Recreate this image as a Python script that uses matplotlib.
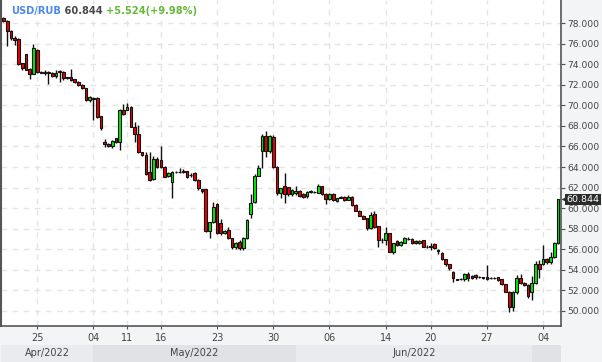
import matplotlib

matplotlib.use("Agg")
import matplotlib.pyplot as plt
import numpy as np
from matplotlib.ticker import FormatStrFormatter

# USD/RUB, 3 bars per trading day (20 Apr .. 5 Jul 2022)
opens = [
    78.46, 78.20, 77.23, 76.50, 76.45, 74.08, 74.96, 73.53, 73.05, 75.38,
    73.22, 73.20, 73.20, 73.10, 72.85, 73.30, 73.21, 72.72, 72.72, 72.52,
    72.30, 71.97, 71.65, 70.52, 70.75, 70.68, 68.96, 66.40, 66.20, 66.04,
    66.79, 66.40, 69.50, 69.55, 69.81, 67.92, 67.18, 65.43, 65.17, 63.50,
    62.80, 64.75, 64.68, 64.03, 63.13, 62.51, 63.55, 63.50, 63.50, 63.60,
    63.23, 63.45, 62.74, 61.86, 61.83, 57.78, 58.62, 60.37, 58.53, 57.56,
    57.88, 57.07, 56.25, 56.74, 56.16, 57.07, 59.41, 60.55, 63.16, 65.56,
    67.05, 65.56, 66.95, 64.03, 61.44, 62.15, 62.03, 61.38, 61.48, 61.67,
    61.38, 61.21, 61.60, 61.55, 61.50, 62.15, 61.38, 60.86, 61.38, 60.73,
    61.05, 61.05, 60.80, 61.12, 60.31, 59.75, 59.24, 59.01, 58.04, 59.43,
    58.27, 56.90, 56.90, 57.56, 55.77, 56.84, 56.42, 56.64, 57.00, 56.97,
    56.80, 56.60, 56.90, 56.25, 56.25, 56.49, 55.90, 55.67, 55.03, 54.54,
    53.82, 53.08, 53.08, 53.08, 53.63, 53.40, 53.50, 53.30, 53.25, 53.27,
    53.20, 53.20, 53.27, 53.08, 52.60, 51.82, 50.42, 51.82, 53.18, 52.70,
    52.53, 51.88, 52.75, 54.57, 54.57, 55.03, 54.80, 55.28, 56.64,
]
closes = [
    78.20, 77.20, 76.52, 76.35, 73.99, 73.60, 73.43, 73.05, 75.54, 73.21,
    73.18, 73.18, 73.16, 72.85, 73.17, 73.25, 72.62, 72.70, 72.46, 72.30,
    71.97, 71.65, 70.52, 70.84, 70.65, 68.89, 67.76, 66.20, 66.00, 66.52,
    66.40, 69.55, 69.16, 69.80, 67.92, 67.18, 65.43, 65.17, 63.29, 62.74,
    64.75, 63.97, 64.03, 63.06, 63.45, 63.55, 63.50, 63.48, 63.60, 63.00,
    63.20, 62.74, 61.93, 61.67, 57.78, 58.62, 60.14, 57.62, 57.56, 57.75,
    57.07, 56.25, 56.58, 56.16, 57.07, 58.85, 60.53, 63.16, 63.88, 67.05,
    65.56, 67.05, 64.03, 61.44, 61.93, 61.38, 61.38, 61.77, 61.67, 61.21,
    61.12, 61.60, 61.62, 61.53, 62.15, 61.38, 60.86, 61.38, 60.80, 60.96,
    61.03, 60.80, 61.05, 60.31, 59.75, 59.24, 58.98, 58.04, 59.33, 58.20,
    56.90, 56.88, 57.56, 55.77, 56.58, 56.42, 56.74, 57.07, 56.98, 56.60,
    56.60, 56.84, 56.25, 56.23, 56.27, 56.10, 55.88, 55.03, 54.54, 54.15,
    53.18, 53.06, 53.10, 53.60, 53.20, 53.18, 53.30, 53.28, 53.23, 53.08,
    53.18, 53.22, 53.00, 52.60, 51.88, 50.42, 51.82, 53.18, 52.70, 52.50,
    51.46, 52.75, 54.57, 54.05, 55.03, 54.80, 55.28, 56.58, 60.844,
]
highs = [
    78.62, 78.30, 77.30, 76.70, 76.50, 74.10, 75.00, 73.60, 75.93, 75.45,
    73.30, 73.40, 73.35, 73.20, 73.40, 73.43, 73.30, 72.80, 73.50, 72.60,
    72.40, 72.05, 71.70, 70.90, 70.85, 70.80, 69.00, 66.70, 66.30, 66.60,
    66.85, 69.60, 70.10, 70.20, 69.90, 68.40, 68.10, 65.50, 65.46, 65.46,
    65.10, 65.00, 66.05, 64.10, 63.50, 63.60, 63.60, 63.90, 63.80, 63.65,
    63.40, 63.50, 62.80, 61.90, 61.90, 58.70, 60.63, 60.50, 58.90, 57.90,
    58.20, 57.10, 56.70, 56.90, 57.20, 58.90, 61.40, 63.30, 64.20, 67.20,
    67.50, 67.10, 67.10, 64.10, 62.00, 63.39, 62.10, 61.90, 62.20, 61.80,
    61.50, 61.70, 61.80, 61.70, 62.30, 62.20, 61.45, 61.50, 61.45, 61.00,
    61.15, 61.15, 61.30, 61.20, 60.40, 59.80, 59.30, 59.05, 59.65, 59.70,
    58.30, 57.07, 58.20, 57.60, 56.65, 56.90, 56.80, 57.20, 57.20, 57.10,
    56.90, 56.90, 56.95, 56.40, 56.60, 56.60, 56.00, 55.75, 55.10, 54.60,
    53.85, 53.15, 53.20, 53.70, 53.75, 53.50, 53.60, 53.40, 53.35, 54.47,
    53.30, 53.30, 53.35, 53.10, 52.65, 51.90, 51.90, 53.50, 53.60, 52.80,
    52.60, 53.40, 54.90, 55.00, 56.40, 55.20, 55.70, 56.70, 60.90,
]
lows = [
    78.10, 75.80, 76.35, 75.90, 73.90, 73.40, 73.40, 72.56, 73.00, 73.15,
    73.10, 72.90, 72.07, 72.80, 72.70, 72.30, 72.50, 72.55, 72.40, 72.20,
    71.90, 71.55, 70.45, 70.35, 68.57, 68.80, 67.60, 65.90, 65.90, 65.85,
    66.30, 65.70, 69.10, 69.50, 67.90, 66.46, 65.40, 65.10, 63.20, 62.60,
    62.70, 63.90, 63.95, 63.00, 63.00, 60.96, 63.45, 63.40, 63.40, 62.90,
    63.00, 62.60, 61.75, 61.50, 57.70, 57.07, 58.55, 57.50, 57.40, 57.50,
    57.00, 56.00, 56.00, 55.90, 55.90, 57.00, 59.00, 60.50, 63.10, 63.90,
    65.00, 65.40, 63.90, 61.30, 60.99, 60.47, 61.20, 61.20, 61.30, 61.10,
    61.00, 61.00, 61.50, 61.45, 61.45, 61.30, 60.40, 60.80, 60.70, 60.60,
    60.95, 60.70, 60.75, 60.25, 59.70, 59.20, 58.90, 57.90, 58.00, 58.10,
    56.20, 56.58, 56.42, 55.70, 55.50, 56.35, 56.35, 56.60, 56.90, 56.55,
    56.50, 56.50, 56.20, 56.10, 55.90, 56.00, 55.50, 54.95, 54.40, 54.00,
    52.85, 53.00, 53.00, 52.90, 52.90, 53.10, 53.10, 53.20, 53.10, 53.00,
    53.10, 53.10, 52.95, 52.50, 51.80, 49.94, 50.00, 51.70, 52.60, 52.40,
    51.30, 51.07, 52.60, 53.20, 54.50, 54.60, 54.60, 55.20, 56.50,
]

date_ticks = [9, 24, 33, 42, 57, 72, 87, 102, 114, 129, 144]
date_labels = ["25", "04", "11", "16", "23", "30", "06", "14", "20", "27", "04"]
month_starts = [24, 78, 141]
month_labels = ["Apr/2022", "May/2022", "Jun/2022", ""]

symbol = "USD/RUB"
change = 5.524
change_pct = 9.98

BG = "#f3f4f6"
UP = "#00ee00"
DOWN = "#ee0000"
INK = "#111111"

W, H = 602, 362
fig = plt.figure(figsize=(W / 100, H / 100), dpi=100, facecolor=BG)
ax = fig.add_axes([1 / W, (H - 326) / H, 560 / W, 326 / H])
ax.set_facecolor("white")

o, hi, lo, c = (np.asarray(a) for a in (opens, highs, lows, closes))
x = np.arange(len(o))
up = c >= o
ax.vlines(x, lo, hi, color=INK, lw=1, zorder=2)
body_h = np.maximum(np.abs(c - o), 0.03)
ax.bar(x, body_h, bottom=np.minimum(o, c), width=0.72,
       color=np.where(up, UP, DOWN), edgecolor=INK, linewidth=0.8, zorder=3)

xlim = (-0.667, 148.79)
ax.set_xlim(*xlim)
ax.set_ylim(48.54, 80.24)

ax.set_yticks(np.arange(50, 79, 2))
ax.yaxis.set_major_formatter(FormatStrFormatter("%.3f"))
ax.yaxis.tick_right()
ax.set_xticks(date_ticks)
ax.set_xticklabels(date_labels)
ax.grid(True, color="#e4e4e4", ls=(0, (4, 4)), lw=1, zorder=0)
ax.tick_params(axis="y", labelsize=6.6, labelcolor="#444444", color="#555555",
               length=3, pad=1.5)
ax.tick_params(axis="x", labelsize=7, labelcolor="#444444", color="#555555",
               length=2, pad=3)

ax.spines["top"].set_visible(False)
ax.spines["left"].set_color("#555555")
ax.spines["left"].set_linewidth(1.5)
for side in ("right", "bottom"):
    ax.spines[side].set_color("#555555")
    ax.spines[side].set_linewidth(1.2)

# title: symbol, last price, change
last = closes[-1]
t1 = fig.text(11 / W, 1 - 11 / H, symbol, color="#4d8af0", fontsize=7.1,
              fontweight="bold", va="center", ha="left")
t2 = ax.annotate(f" {last:.3f} ", xy=(1, 0.5), xycoords=t1, va="center", ha="left",
                 color="#4a4a4a", fontsize=7.1, fontweight="bold")
ax.annotate(f"+{change:.3f}(+{change_pct:.2f}%)", xy=(1, 0.5), xycoords=t2,
            va="center", ha="left", color="#66b83a", fontsize=7.1, fontweight="bold")

# last price flag on the right axis
ax.plot([1 + 3.5 / 560], [last], marker="<", ms=6, color="#2b2b2b", mec="none",
        transform=ax.get_yaxis_transform(), clip_on=False, zorder=5)
ax.annotate(f"{last:.3f}", xy=(1, last), xycoords=("axes fraction", "data"),
            xytext=(4, 0), textcoords="offset points", va="center", ha="left",
            color="white", fontsize=6.8,
            bbox=dict(boxstyle="square,pad=0.15", fc="#2b2b2b", ec="none"),
            annotation_clip=False, zorder=6)

# month bands along the bottom
axb = fig.add_axes([1 / W, 0, 560 / W, 17 / H])
axb.set_xlim(*xlim)
axb.set_ylim(0, 1)
axb.axis("off")
edges = [xlim[0]] + month_starts + [xlim[1]]
band_colors = ["#eaebee", "#e1e2e6", "#eaebee", "#e1e2e6"]
for a, b, col, lab in zip(edges[:-1], edges[1:], band_colors, month_labels):
    axb.axvspan(a, b, color=col, lw=0)
    axb.text((a + b) / 2, 0.5, lab, ha="center", va="center", fontsize=7,
             color="#444444")

fig.savefig("out.png", dpi=100, facecolor=BG)
